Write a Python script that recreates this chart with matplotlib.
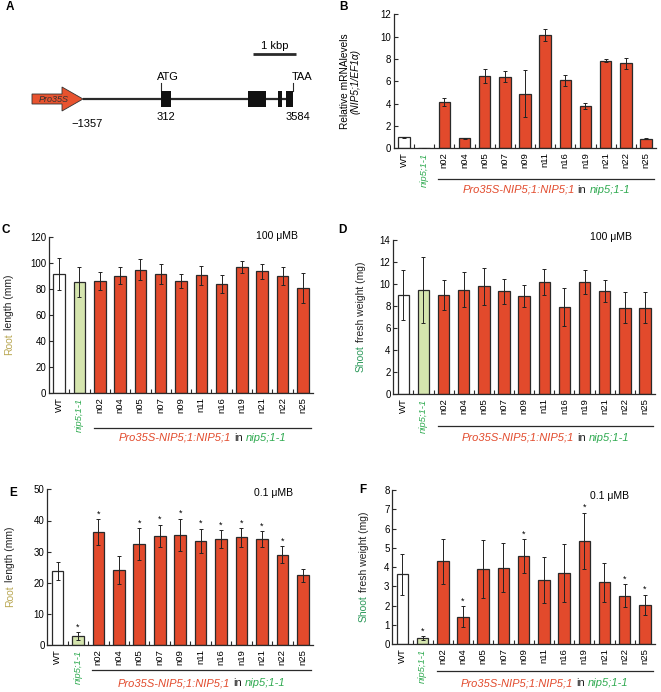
import numpy as np
import matplotlib
matplotlib.use("Agg")
import matplotlib.pyplot as plt
from matplotlib.patches import Polygon, Rectangle
from matplotlib.transforms import blended_transform_factory

# ============================================================
# DATA
# ============================================================
LINES = ["WT", "nip5;1-1", "n02", "n04", "n05", "n07", "n09",
         "n11", "n16", "n19", "n21", "n22", "n25"]

# B: relative mRNA levels (NIP5;1 / EF1a)
MRNA = [1.0, 0.03, 4.12, 0.9, 6.48, 6.42, 4.9, 10.15, 6.09, 3.79, 7.85, 7.62, 0.85]
MRNA_ERR = [0.05, 0.0, 0.35, 0.04, 0.6, 0.5, 2.1, 0.5, 0.5, 0.3, 0.12, 0.5, 0.03]

# C: root length (mm), 100 uM B
ROOT_100 = [91.8, 85.4, 86.4, 90.5, 95.0, 91.8, 86.6, 90.7, 84.3, 97.0, 93.8, 90.0, 80.7]
ROOT_100_ERR = [12, 11.5, 7, 6.5, 8, 8, 5.5, 7.5, 7, 4.5, 6, 7, 11.5]

# D: shoot fresh weight (mg), 100 uM B
SHOOT_100 = [9.0, 9.5, 9.0, 9.5, 9.8, 9.35, 8.92, 10.2, 7.92, 10.2, 9.4, 7.86, 7.86]
SHOOT_100_ERR = [2.25, 3.0, 1.35, 1.6, 1.7, 1.15, 1.0, 1.15, 1.75, 1.1, 1.0, 1.4, 1.4]

# E: root length (mm), 0.1 uM B
ROOT_01 = [23.8, 3.0, 36.3, 24.2, 32.5, 35.1, 35.4, 33.5, 34.0, 34.6, 34.0, 29.0, 22.4]
ROOT_01_ERR = [2.8, 1.2, 4.1, 4.4, 5.1, 3.5, 5.2, 3.8, 2.9, 3.0, 2.5, 2.7, 2.1]
ROOT_01_SIG = [0, 1, 1, 0, 1, 1, 1, 1, 1, 1, 1, 1, 0]

# F: shoot fresh weight (mg), 0.1 uM B
SHOOT_01 = [3.63, 0.33, 4.3, 1.43, 3.9, 3.97, 4.56, 3.35, 3.7, 5.37, 3.21, 2.52, 2.06]
SHOOT_01_ERR = [1.05, 0.1, 1.17, 0.55, 1.52, 1.26, 0.88, 1.19, 1.52, 1.45, 1.0, 0.6, 0.52]
SHOOT_01_SIG = [0, 1, 0, 1, 0, 0, 1, 0, 0, 1, 0, 1, 1]

# A: construct (bp)
PROMOTER = (-2557, -1357)
EXONS = [(470, 705), (2532, 2942), (3238, 3318), (3419, 3584)]
ATG_POS = 470
TAA_POS = 3584
SCALE_BAR = (2650, 3650)

# ============================================================
# STYLE
# ============================================================
W, H = 661, 692
RED = "#E24A2C"
LIGHT_GREEN = "#D5E5AE"
GREEN = "#2FAA50"
KHAKI = "#B9A752"
SHOOT_GREEN = "#2E9A5C"
DARK = "#2A2A2A"
BAR_COLORS = ["white", LIGHT_GREEN] + [RED] * 11

plt.rcParams["font.family"] = ["Liberation Sans", "DejaVu Sans"]


def fig_xy(x, y):
    return x / W, 1 - y / H


def px_axes(fig, left, top, right, bottom):
    return fig.add_axes([left / W, 1 - bottom / H, (right - left) / W, (bottom - top) / H])


def colored_text(fig, x, y, parts, size, vertical=False):
    # x, y in pixels (top-left origin); horizontal: x is centre, y baseline;
    # vertical: x is baseline, y is centre
    renderer = fig.canvas.get_renderer()
    space = 0.278 * size * fig.dpi / 72
    items = []
    for s, props in parts:
        t = fig.text(0, 0, s.strip(), fontsize=size, rotation=90 if vertical else 0,
                     rotation_mode="anchor", ha="left", va="baseline", **props)
        ext = t.get_window_extent(renderer)
        length = ext.height if vertical else ext.width
        before = space if s.startswith(" ") else 0
        after = space if s.endswith(" ") else 0
        items.append((t, length, before, after))
    total = sum(l + b + a for _, l, b, a in items)
    pos = -total / 2
    for t, l, b, a in items:
        pos += b
        if vertical:
            t.set_position(fig_xy(x, y - pos))
        else:
            t.set_position(fig_xy(x + pos, y))
        pos += l + a


def draw_bars(ax, vals, errs, ymax, step, sig=None):
    x = np.arange(len(LINES))
    ax.bar(x, vals, width=0.57, color=BAR_COLORS, edgecolor=DARK, linewidth=0.9, zorder=2)
    ax.errorbar(x, vals, yerr=errs, fmt="none", ecolor="#222222", elinewidth=0.7,
                capsize=1.5, capthick=0.7, zorder=3)
    if sig is not None:
        for i in x:
            if sig[i]:
                ax.annotate("*", (i, vals[i] + errs[i]), xytext=(0, 0.5),
                            textcoords="offset points", ha="center", va="bottom", fontsize=6.5)
    ax.set_xlim(-0.5, len(LINES) - 0.5)
    ax.set_ylim(0, ymax)
    ax.set_yticks(np.arange(0, ymax + step / 2, step))
    ax.set_xticks(x)
    ax.set_xticklabels(LINES, rotation=90, fontsize=6.8)
    lab = ax.get_xticklabels()[1]
    lab.set_color(GREEN)
    lab.set_style("italic")
    ax.set_xticks(np.arange(0.5, len(LINES) - 1, 1), minor=True)
    ax.tick_params(axis="x", which="major", length=0, pad=3)
    ax.tick_params(axis="x", which="minor", direction="in", length=3, width=0.8, color=DARK)
    ax.tick_params(axis="y", direction="in", length=3, width=0.8, labelsize=7, pad=2, color=DARK)
    for side in ["top", "right"]:
        ax.spines[side].set_visible(False)
    for side in ["left", "bottom"]:
        ax.spines[side].set_linewidth(0.9)
        ax.spines[side].set_color(DARK)


def group_label(fig, ax, y_line, y_text):
    trans = blended_transform_factory(ax.transData, fig.transFigure)
    ax.plot([1.7, 12.4], [1 - y_line / H] * 2, transform=trans, clip_on=False,
            color=DARK, lw=0.9)
    xc = ax.transData.transform((7.05, 0))[0]
    colored_text(fig, xc, y_text, [
        ("Pro35S-NIP5;1:NIP5;1 ", {"color": RED, "style": "italic"}),
        ("in ", {"color": "#222222"}),
        ("nip5;1-1", {"color": GREEN, "style": "italic"}),
    ], size=8)


def draw_construct(fig):
    ax = px_axes(fig, 20, 35, 320, 135)
    k = (293 - 83) / (TAA_POS - PROMOTER[1])
    ax.set_xlim(PROMOTER[1] - (83 - 20) / k, TAA_POS + (320 - 293) / k)
    ax.set_ylim(135, 35)
    ax.axis("off")

    ax.plot([PROMOTER[1], TAA_POS], [99, 99], color=DARK, lw=1.6, solid_capstyle="butt")
    for s, e in EXONS:
        ax.add_patch(Rectangle((s, 91), e - s, 16, fc="#111111", ec="none", zorder=3))
    head = PROMOTER[1] - 21 / k
    arrow = [(PROMOTER[0], 94), (head, 94), (head, 87), (PROMOTER[1], 99),
             (head, 111), (head, 104), (PROMOTER[0], 104)]
    ax.add_patch(Polygon(arrow, closed=True, fc="#E8532F", ec="#333333", lw=0.6, zorder=4))
    ax.text((PROMOTER[0] + head) / 2 + 165, 99.5, "Pro35S", style="italic", fontsize=6.5,
            color="#333333", ha="center", va="center", zorder=5)

    for pos, lab, dx in [(ATG_POS, "ATG", 5), (TAA_POS, "TAA", 6.5)]:
        ax.plot([pos, pos], [83, 91], color=DARK, lw=0.8)
        ax.annotate(lab, (pos, 83), xytext=(dx, 1), textcoords="offset points",
                    ha="center", va="bottom", fontsize=8)
    ax.text(np.mean(EXONS[0]), 117, "312", ha="center", va="center", fontsize=8)
    ax.annotate("3584", (TAA_POS, 117), xytext=(3.5, 0), textcoords="offset points",
                ha="center", va="center", fontsize=8)
    ax.annotate("\u22121357", (PROMOTER[1], 124), xytext=(3, 0), textcoords="offset points",
                ha="center", va="center", fontsize=8)

    ax.plot(SCALE_BAR, [54, 54], color=DARK, lw=2, solid_capstyle="butt")
    ax.text(np.mean(SCALE_BAR), 51, "1 kbp", ha="center", va="bottom", fontsize=8)


def main():
    fig = plt.figure(figsize=(W / 100, H / 100), dpi=100)

    draw_construct(fig)

    # B
    ax_b = px_axes(fig, 394, 14.3, 656, 148.3)
    draw_bars(ax_b, MRNA, MRNA_ERR, 12, 2)
    fig.text(*fig_xy(345, 81), "Relative mRNAlevels", rotation=90, ha="center",
             va="center", fontsize=7.3)
    fig.text(*fig_xy(355.5, 81), "(NIP5;1/EF1\u03b1)", rotation=90, ha="center",
             va="center", fontsize=7.3, style="italic")

    # C
    ax_c = px_axes(fig, 49, 237.3, 313, 393.3)
    draw_bars(ax_c, ROOT_100, ROOT_100_ERR, 120, 20)
    # D
    ax_d = px_axes(fig, 393.3, 240, 655, 394.3)
    draw_bars(ax_d, SHOOT_100, SHOOT_100_ERR, 14, 2)
    # E
    ax_e = px_axes(fig, 47.3, 489.3, 313, 645.3)
    draw_bars(ax_e, ROOT_01, ROOT_01_ERR, 50, 10, sig=ROOT_01_SIG)
    # F
    ax_f = px_axes(fig, 392.3, 490, 655, 644.3)
    draw_bars(ax_f, SHOOT_01, SHOOT_01_ERR, 8, 1, sig=SHOOT_01_SIG)

    root_parts = [("Root ", {"color": KHAKI}), ("length (mm)", {"color": "#222222"})]
    shoot_parts = [("Shoot ", {"color": SHOOT_GREEN}), ("fresh weight (mg)", {"color": "#222222"})]
    colored_text(fig, 12.5, 315, root_parts, size=7.5, vertical=True)
    colored_text(fig, 364, 317, shoot_parts, size=7.5, vertical=True)
    colored_text(fig, 13.5, 567, root_parts, size=7.5, vertical=True)
    colored_text(fig, 367, 567, shoot_parts, size=7.5, vertical=True)

    group_label(fig, ax_b, 179, 193)
    group_label(fig, ax_c, 428, 441)
    group_label(fig, ax_d, 426, 441)
    group_label(fig, ax_e, 670, 686)
    group_label(fig, ax_f, 671, 686)

    for x, y, s in [(277, 236, "100 \u03bcMB"), (611, 237, "100 \u03bcMB"),
                    (273, 493, "0.1 \u03bcMB"), (609, 496, "0.1 \u03bcMB")]:
        fig.text(*fig_xy(x, y), s, ha="center", va="center", fontsize=7.5)

    for x, y, s in [(10, 7, "A"), (343, 7, "B"), (6, 230, "C"), (342, 230, "D"),
                    (13, 493, "E"), (363, 490, "F")]:
        fig.text(*fig_xy(x, y), s, ha="center", va="center", fontsize=8.5, weight="bold")

    fig.savefig("out.png", dpi=100)


if __name__ == "__main__":
    main()
